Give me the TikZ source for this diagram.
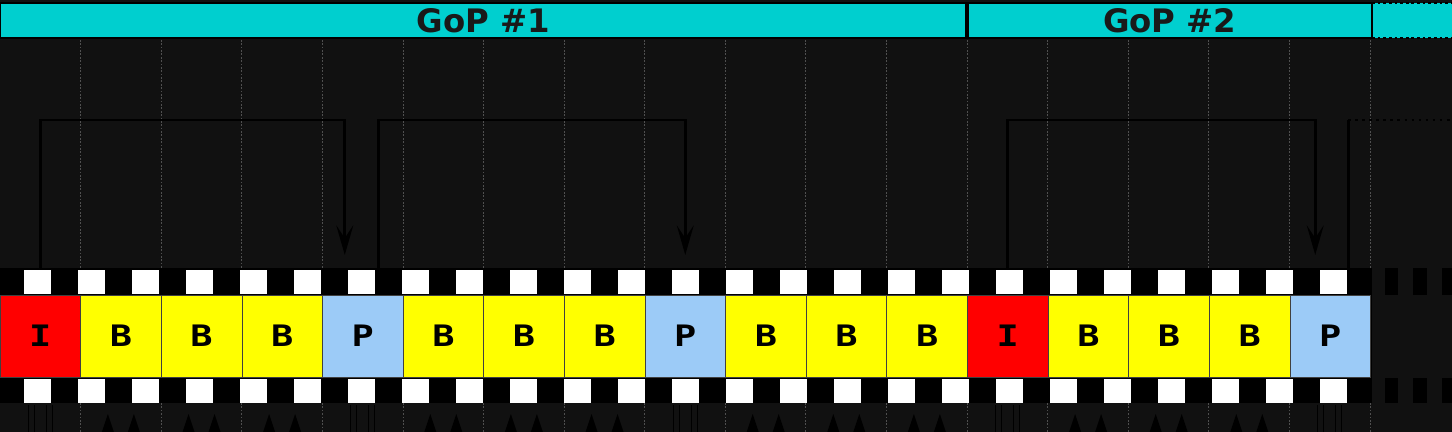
\documentclass[tikz,border=0pt]{standalone}
\usepackage{fontspec}
\setmainfont{DejaVu Sans}
\newfontfamily\framefont{DejaVu Sans Mono}[FakeStretch=1.25]
\usepackage{tikz}
\usetikzlibrary{arrows.meta, positioning}
\definecolor{bgdark}{HTML}{111111}
\definecolor{gridgray}{HTML}{505050}
\definecolor{gopcyan}{HTML}{00CFCF}
\definecolor{redI}{HTML}{FF0000}
\definecolor{yellowB}{HTML}{FFFF00}
\definecolor{blueP}{HTML}{9CCBF7}
\tikzstyle{frame}  = [rectangle, draw=black!75, line width=0.5pt, minimum width=2.015cm, minimum height=2.05cm,
                      inner sep=0pt, outer sep=0pt, font=\framefont\bfseries\fontsize{21}{24}\selectfont]
\tikzstyle{iframe} = [frame, fill=redI]
\tikzstyle{bframe} = [frame, fill=yellowB]
\tikzstyle{pframe} = [frame, fill=blueP]
\tikzstyle{gop}    = [font=\bfseries\fontsize{23}{25}\selectfont, text=black!90]
\tikzstyle{refline} = [black, line width=2.1pt]
\tikzstyle{ref}    = [refline, ->, shorten >=1cm]
\tikzstyle{grid}   = [gridgray, line width=0.6pt, dash pattern=on 1.2pt off 1.2pt]
\tikzset{>={Stealth[length=21pt, width=12pt, inset=9pt]}}

\begin{document}
\begin{tikzpicture}[x=0.025cm, y=-0.025cm]
    \useasboundingbox (0,0) rectangle (1452,432);
    \fill[bgdark] (0,0) rectangle (1452,432);

    % GoP bar
    \fill[gopcyan] (1372,3) rectangle (1452,38);
    \draw[black, line width=1.2pt, dash pattern=on 2pt off 2pt] (1372,3) -- (1452,3) (1372,38) -- (1452,38);
    \node (gop1) [gop, fill=gopcyan, draw=black, line width=1.2pt, minimum width=24.175cm, minimum height=0.875cm,
                  inner sep=0pt, outer sep=0pt] at (483.5,20.5) {GoP \#1};
    \node (gop2) [gop, fill=gopcyan, draw=black, line width=1.2pt, minimum width=10.125cm, minimum height=0.875cm,
                  inner sep=0pt, outer sep=0pt, right=0pt of gop1] {GoP \#2};
    \draw[black, line width=3pt] (gop1.north east) -- (gop1.south east);

    % dotted frame grid
    \foreach \k in {1,...,17} {
        \draw[grid] (80.59*\k,40) -- (80.59*\k,268);
        \draw[grid] (80.59*\k,403) -- (80.59*\k,432);
    }

    % film strip
    \fill[black] (0,268) rectangle (1372,403);
    \foreach \k in {0,...,24} {
        \fill[white] (24+54*\k,270) rectangle ++(27,24);
        \fill[white] (24+54*\k,379) rectangle ++(27,24);
    }
    \foreach \x/\w in {1385/13, 1413/14, 1442/10} {
        \fill[black] (\x,268) rectangle ++(\w,27);
        \fill[black] (\x,378) rectangle ++(\w,25);
    }

    % frames
    \node (f1)  at (40.3,336) [iframe] {I};
    \node (f2)  [bframe, right=0pt of f1]  {B};
    \node (f3)  [bframe, right=0pt of f2]  {B};
    \node (f4)  [bframe, right=0pt of f3]  {B};
    \node (f5)  [pframe, right=0pt of f4]  {P};
    \node (f6)  [bframe, right=0pt of f5]  {B};
    \node (f7)  [bframe, right=0pt of f6]  {B};
    \node (f8)  [bframe, right=0pt of f7]  {B};
    \node (f9)  [pframe, right=0pt of f8]  {P};
    \node (f10) [bframe, right=0pt of f9]  {B};
    \node (f11) [bframe, right=0pt of f10] {B};
    \node (f12) [bframe, right=0pt of f11] {B};
    \node (f13) [iframe, right=0pt of f12] {I};
    \node (f14) [bframe, right=0pt of f13] {B};
    \node (f15) [bframe, right=0pt of f14] {B};
    \node (f16) [bframe, right=0pt of f15] {B};
    \node (f17) [pframe, right=0pt of f16] {P};

    % references
    \coordinate (lvl)  at (0,120);
    \coordinate (edge) at (1452,120);
    \draw[ref] ([yshift=0.675cm]f1.north) |- ([xshift=-0.45cm]f5.north |- lvl) -- ([xshift=-0.45cm]f5.north);
    \draw[ref] ([xshift=0.4cm, yshift=0.675cm]f5.north) |- (f9.north |- lvl) -- (f9.north);
    \draw[ref] ([yshift=0.675cm]f13.north) |- ([xshift=-0.375cm]f17.north |- lvl) -- ([xshift=-0.375cm]f17.north);
    \coordinate (cont) at ([xshift=0.45cm, yshift=0.675cm]f17.north);
    \draw[refline] (cont) -- (cont |- lvl);
    \draw[refline, line width=1.6pt, dash pattern=on 2pt off 3pt] (cont |- lvl) -- (edge);

    % marks below the strip
    \foreach \c in {120.9, 201.5, 282.1, 443.3, 523.9, 604.5, 765.7, 846.3, 926.9, 1088.1, 1168.7, 1249.3} {
        \fill[black] (\c-19,432) -- (\c-13,414) -- (\c-7,432) -- cycle;
        \fill[black] (\c+7,432) -- (\c+13,414) -- (\c+19,432) -- cycle;
    }
    \foreach \c in {40.3, 362.7, 685.1, 1007.4, 1329.8} {
        \foreach \d in {-12,-6,6,12}
            \draw[black, line width=0.6pt] (\c+\d,405) -- (\c+\d,432);
    }
\end{tikzpicture}
\end{document}
